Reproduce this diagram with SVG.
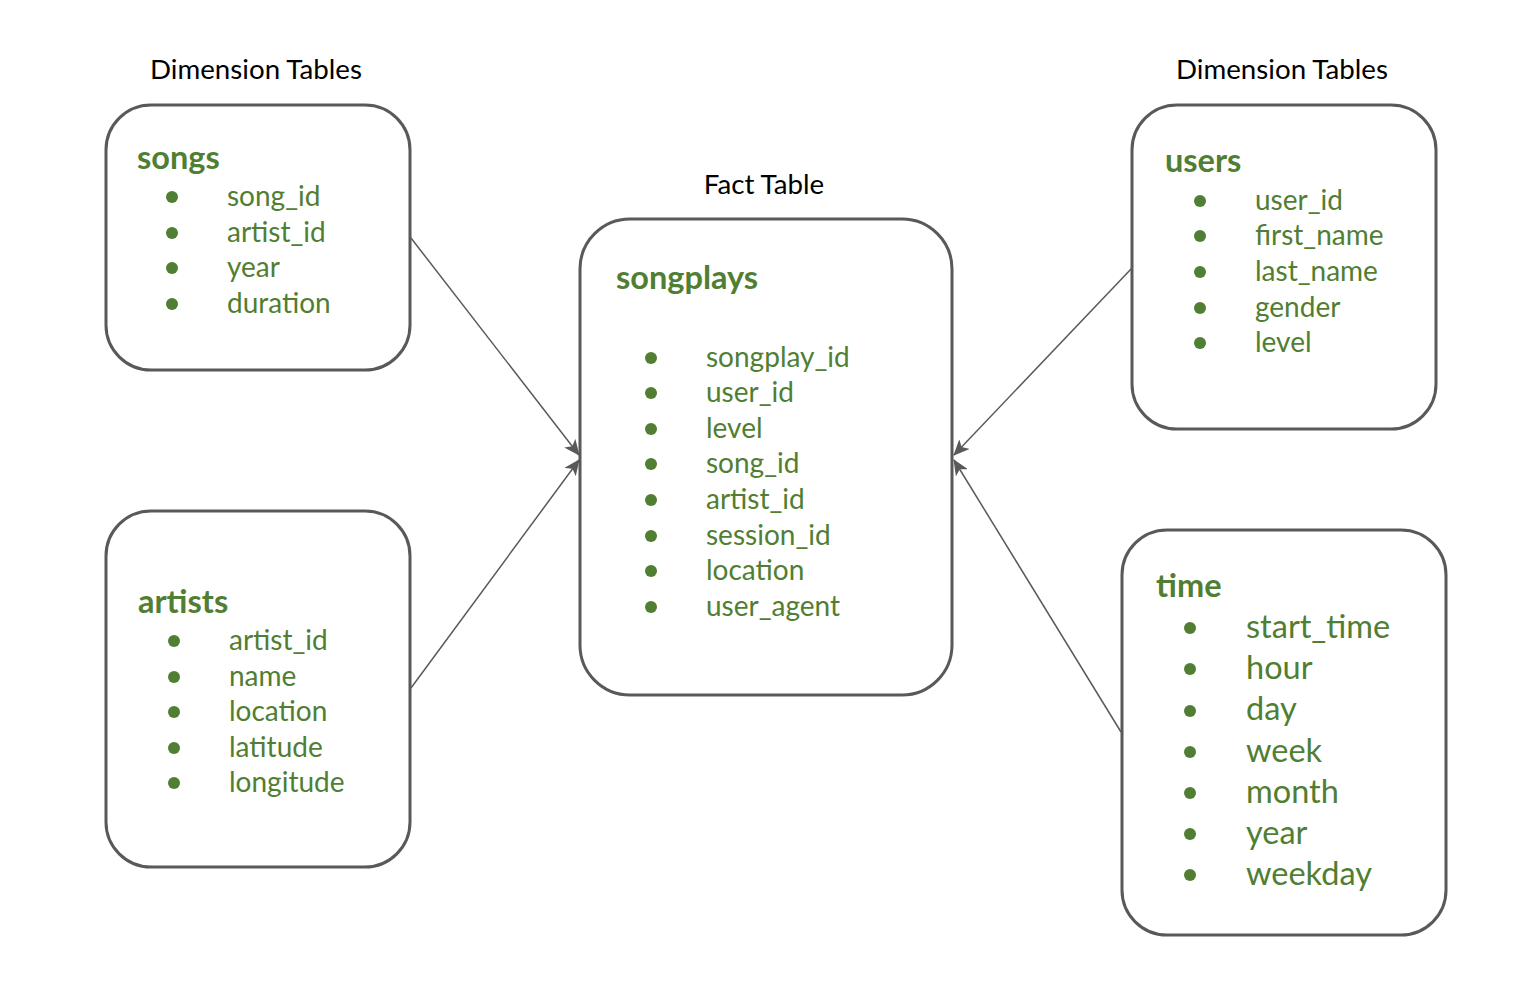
<svg xmlns="http://www.w3.org/2000/svg" width="1540" height="988" viewBox="0 0 1540 988">
<defs>
<style>
.box{fill:#fff;stroke:#595959;stroke-width:3}
.cap{font-family:Lato,"Open Sans",sans-serif;font-size:27.7px;fill:#000}
.hd{font-family:Lato,"Open Sans",sans-serif;font-size:32.5px;font-weight:bold;fill:#507e32}
.it{font-family:Lato,"Open Sans",sans-serif;font-size:28px;fill:#507e32}
.it2{font-family:Lato,"Open Sans",sans-serif;font-size:32.5px;fill:#507e32}
.dot{fill:#507e32}
.conn{stroke:#595959;stroke-width:1.5;fill:none;marker-end:url(#arr)}
</style>
<marker id="arr" viewBox="0 0 16 14" refX="15" refY="7" markerWidth="16" markerHeight="14" markerUnits="userSpaceOnUse" orient="auto">
<path d="M0,0 L16,7 L0,14 L4,7 Z" fill="#595959"/>
</marker>
</defs>
<rect width="1540" height="988" fill="#fff"/>
<text class="cap" x="256" y="79" text-anchor="middle">Dimension Tables</text>
<text class="cap" x="764" y="194" text-anchor="middle">Fact Table</text>
<text class="cap" x="1282" y="79" text-anchor="middle">Dimension Tables</text>
<g id="connectors">
<line class="conn" x1="411" y1="238" x2="579" y2="455"/>
<line class="conn" x1="411" y1="688" x2="579" y2="460"/>
<line class="conn" x1="1132" y1="268" x2="954" y2="455"/>
<line class="conn" x1="1121" y1="732" x2="954" y2="460"/>
</g>
<g id="songs">
<rect class="box" x="106" y="105" width="304" height="265" rx="45"/>
<text class="hd" x="137" y="169">songs</text>
<g class="dot"><circle cx="172" cy="197" r="6"/><circle cx="172" cy="233" r="6"/><circle cx="172" cy="268" r="6"/><circle cx="172" cy="304" r="6"/></g>
<text class="it" x="227" y="206">song_id</text>
<text class="it" x="227" y="242">artist_id</text>
<text class="it" x="227" y="277">year</text>
<text class="it" x="227" y="313">duration</text>
</g>
<g id="artists">
<rect class="box" x="106" y="511" width="304" height="356" rx="45"/>
<text class="hd" x="138" y="613">artists</text>
<g class="dot"><circle cx="174" cy="641" r="6"/><circle cx="174" cy="677" r="6"/><circle cx="174" cy="712" r="6"/><circle cx="174" cy="748" r="6"/><circle cx="174" cy="783" r="6"/></g>
<text class="it" x="229" y="650">artist_id</text>
<text class="it" x="229" y="686">name</text>
<text class="it" x="229" y="721">location</text>
<text class="it" x="229" y="757">latitude</text>
<text class="it" x="229" y="792">longitude</text>
</g>
<g id="songplays">
<rect class="box" x="580" y="219" width="372" height="476" rx="50"/>
<text class="hd" x="616" y="289">songplays</text>
<g class="dot"><circle cx="651" cy="358" r="6"/><circle cx="651" cy="393" r="6"/><circle cx="651" cy="429" r="6"/><circle cx="651" cy="464" r="6"/><circle cx="651" cy="500" r="6"/><circle cx="651" cy="536" r="6"/><circle cx="651" cy="571" r="6"/><circle cx="651" cy="607" r="6"/></g>
<text class="it" x="706" y="367">songplay_id</text>
<text class="it" x="706" y="402">user_id</text>
<text class="it" x="706" y="438">level</text>
<text class="it" x="706" y="473">song_id</text>
<text class="it" x="706" y="509">artist_id</text>
<text class="it" x="706" y="545">session_id</text>
<text class="it" x="706" y="580">location</text>
<text class="it" x="706" y="616">user_agent</text>
</g>
<g id="users">
<rect class="box" x="1132" y="105" width="304" height="324" rx="45"/>
<text class="hd" x="1165" y="172">users</text>
<g class="dot"><circle cx="1200" cy="201" r="6"/><circle cx="1200" cy="236" r="6"/><circle cx="1200" cy="272" r="6"/><circle cx="1200" cy="308" r="6"/><circle cx="1200" cy="343" r="6"/></g>
<text class="it" x="1255" y="210">user_id</text>
<text class="it" x="1255" y="245">first_name</text>
<text class="it" x="1255" y="281">last_name</text>
<text class="it" x="1255" y="317">gender</text>
<text class="it" x="1255" y="352">level</text>
</g>
<g id="time">
<rect class="box" x="1122" y="530" width="324" height="405" rx="45"/>
<text class="hd" x="1156" y="597">time</text>
<g class="dot"><circle cx="1190" cy="628" r="6"/><circle cx="1190" cy="669" r="6"/><circle cx="1190" cy="711" r="6"/><circle cx="1190" cy="752" r="6"/><circle cx="1190" cy="793" r="6"/><circle cx="1190" cy="834" r="6"/><circle cx="1190" cy="875" r="6"/></g>
<text class="it2" x="1246" y="638">start_time</text>
<text class="it2" x="1246" y="679">hour</text>
<text class="it2" x="1246" y="720">day</text>
<text class="it2" x="1246" y="762">week</text>
<text class="it2" x="1246" y="803">month</text>
<text class="it2" x="1246" y="844">year</text>
<text class="it2" x="1246" y="885">weekday</text>
</g>
</svg>
